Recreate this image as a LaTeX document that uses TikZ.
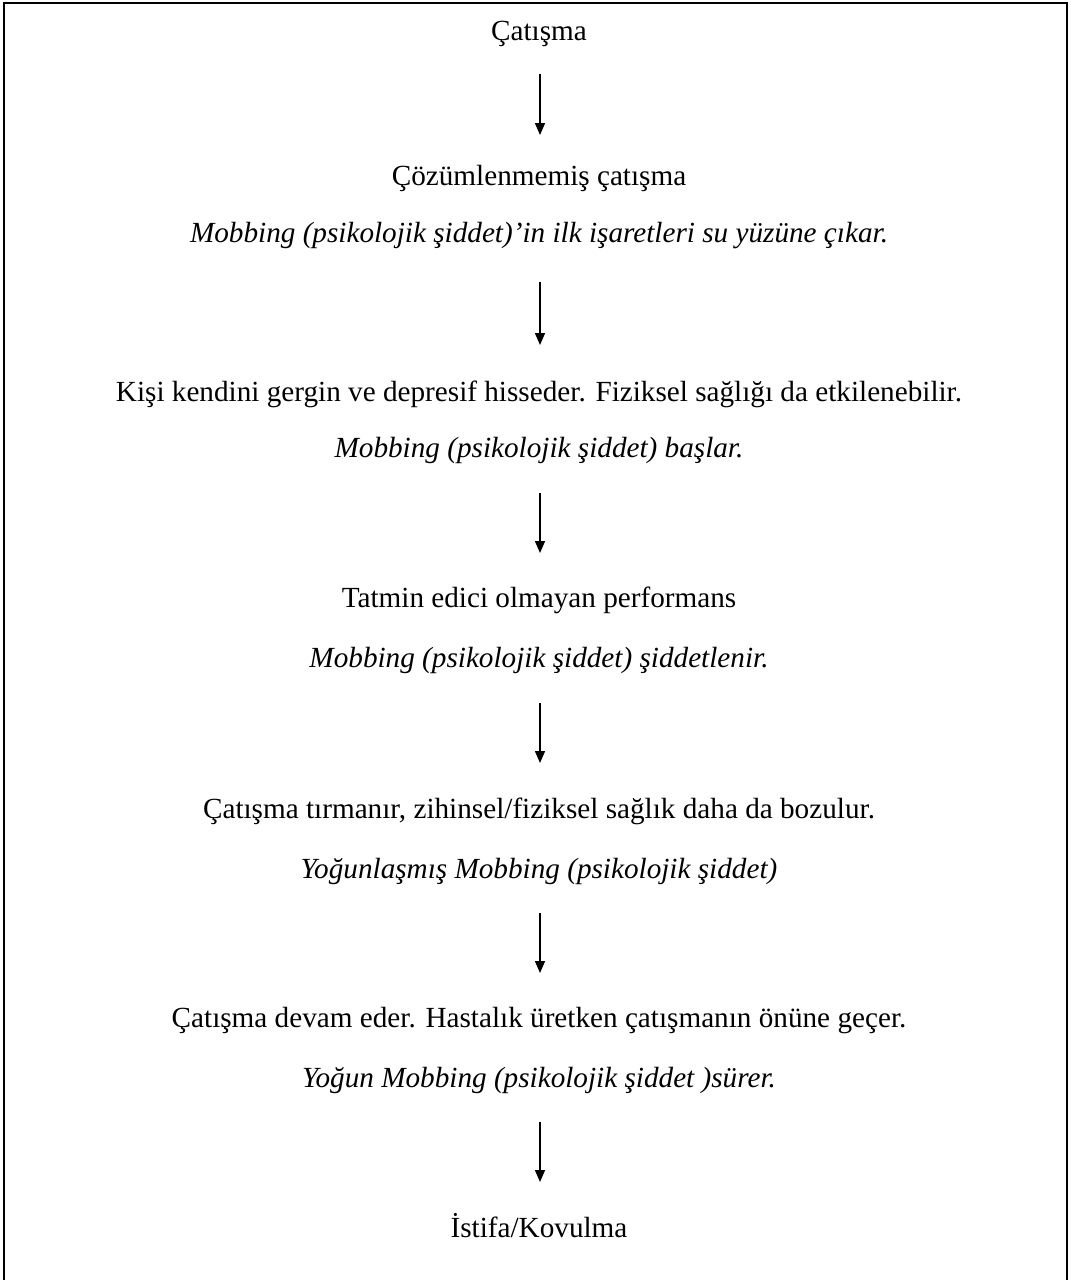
\documentclass[tikz,border=0pt]{standalone}
\usepackage{fontspec}
\setmainfont{Liberation Serif}
\usetikzlibrary{arrows.meta}
\begin{document}
\begin{tikzpicture}[x=1pt,y=-1pt,
  lbl/.style={inner sep=0pt,anchor=base,font=\fontsize{29.2}{34}\selectfont},
  ilbl/.style={lbl,font=\fontsize{29.2}{34}\selectfont\itshape},
  arr/.style={line width=1.5pt,-{Triangle[width=10pt,length=12pt]}}]
\useasboundingbox (0,0) rectangle (1071,1280);
\draw[line width=2pt] (4,1282) -- (4,3) -- (1067,3) -- (1067,1282);
\node[lbl] (a) at (539,40) {Çatışma};
\node[lbl] (b) at (539,185) {Çözümlenmemiş çatışma};
\node[ilbl] (b2) at (539,242) {Mobbing (psikolojik şiddet)’in ilk işaretleri su yüzüne çıkar.};
\node[lbl] (c) at (539,401) {Kişi kendini gergin ve depresif hisseder. Fiziksel sağlığı da etkilenebilir.};
\node[ilbl] (c2) at (539,457) {Mobbing (psikolojik şiddet) başlar.};
\node[lbl] (d) at (539,607) {Tatmin edici olmayan performans};
\node[ilbl] (d2) at (539,667) {Mobbing (psikolojik şiddet) şiddetlenir.};
\node[lbl] (e) at (539,818) {Çatışma tırmanır, zihinsel/fiziksel sağlık daha da bozulur.};
\node[ilbl] (e2) at (539,878) {Yoğunlaşmış Mobbing (psikolojik şiddet)};
\node[lbl] (f) at (539,1027) {Çatışma devam eder. Hastalık üretken çatışmanın önüne geçer.};
\node[ilbl] (f2) at (539,1087) {Yoğun Mobbing (psikolojik şiddet )sürer.};
\node[lbl] (g) at (539,1237) {İstifa/Kovulma};
\draw[arr] ([xshift=1pt,yshift=-34pt]a.base) -- ([xshift=1pt,yshift=50pt]b.base);
\draw[arr] ([xshift=1pt,yshift=-40pt]b2.base) -- ([xshift=1pt,yshift=56pt]c.base);
\draw[arr] ([xshift=1pt,yshift=-36pt]c2.base) -- ([xshift=1pt,yshift=54pt]d.base);
\draw[arr] ([xshift=1pt,yshift=-36pt]d2.base) -- ([xshift=1pt,yshift=55pt]e.base);
\draw[arr] ([xshift=1pt,yshift=-35pt]e2.base) -- ([xshift=1pt,yshift=54pt]f.base);
\draw[arr] ([xshift=1pt,yshift=-35pt]f2.base) -- ([xshift=1pt,yshift=55pt]g.base);
\end{tikzpicture}
\end{document}
